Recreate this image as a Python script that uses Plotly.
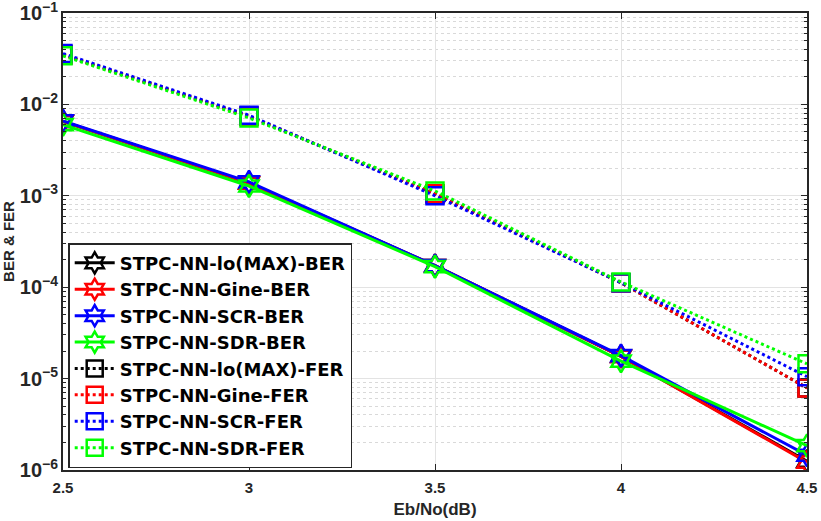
import plotly.graph_objects as go

# Eb/No points (dB)
ebno = [2.5, 3, 3.5, 4, 4.5]

# BER curves
ber_lomax = [6.5e-3, 1.38e-3, 1.72e-4, 1.75e-5, 1.25e-6]
ber_gine = [6.5e-3, 1.38e-3, 1.72e-4, 1.75e-5, 1.22e-6]
ber_scr = [6.6e-3, 1.42e-3, 1.72e-4, 1.78e-5, 1.45e-6]
ber_sdr = [6.0e-3, 1.28e-3, 1.68e-4, 1.55e-5, 1.85e-6]

# FER curves
fer_lomax = [3.5e-2, 7.4e-3, 1.05e-3, 1.12e-4, 7.9e-6]
fer_gine = [3.5e-2, 7.4e-3, 1.05e-3, 1.12e-4, 7.9e-6]
fer_scr = [3.6e-2, 7.6e-3, 1.0e-3, 1.12e-4, 1.05e-5]
fer_sdr = [3.4e-2, 7.1e-3, 1.13e-3, 1.14e-4, 1.45e-5]

names_ber = ["STPC-NN-lo(MAX)-BER", "STPC-NN-Gine-BER", "STPC-NN-SCR-BER", "STPC-NN-SDR-BER"]
names_fer = ["STPC-NN-lo(MAX)-FER", "STPC-NN-Gine-FER", "STPC-NN-SCR-FER", "STPC-NN-SDR-FER"]
colors = ["#000000", "#ff0000", "#0000ff", "#00ff00"]

FONT = "Liberation Sans"
LEGEND_FONT = "DejaVu Sans"
TXT = "#262626"

fig = go.Figure()

for name, ys, col in zip(names_ber, [ber_lomax, ber_gine, ber_scr, ber_sdr], colors):
    fig.add_trace(go.Scatter(
        x=ebno, y=ys, name=name, mode="lines+markers",
        line=dict(color=col, width=3),
        marker=dict(symbol="hexagram-open", size=17, color=col, line=dict(width=2.5, color=col)),
    ))

for name, ys, col in zip(names_fer, [fer_lomax, fer_gine, fer_scr, fer_sdr], colors):
    fig.add_trace(go.Scatter(
        x=ebno, y=ys, name=name, mode="lines+markers",
        line=dict(color=col, width=3, dash="dot"),
        marker=dict(symbol="square-open", size=17, color=col, line=dict(width=2.5, color=col)),
    ))

fig.update_xaxes(
    range=[2.5, 4.5],
    tickvals=ebno,
    ticktext=["2.5", "3", "3.5", "4", "4.5"],
    automargin=False,
    ticklabeloverflow="allow",
    ticklabelstandoff=3,
    showgrid=True, gridcolor="#e3e3e3", gridwidth=1,
    showline=True, linecolor=TXT, linewidth=1.5, mirror="ticks",
    ticks="inside", ticklen=6, tickcolor=TXT,
    tickfont=dict(family=FONT, size=15, color=TXT, weight="bold"),
    title=dict(text="Eb/No(dB)", font=dict(family=FONT, size=17, color=TXT, weight="bold"), standoff=8),
    zeroline=False,
)
fig.update_yaxes(
    type="log",
    range=[-6, -1],
    dtick=1,
    exponentformat="power",
    automargin=False,
    ticklabeloverflow="allow",
    showgrid=True, gridcolor="#e3e3e3", gridwidth=1,
    showline=True, linecolor=TXT, linewidth=1.5, mirror="ticks",
    ticks="inside", ticklen=6, tickcolor=TXT,
    tickfont=dict(family=FONT, size=16, color=TXT, weight="bold"),
    minor=dict(dtick="D1", ticks="inside", ticklen=3, tickcolor=TXT,
               showgrid=True, gridcolor="#d9d9d9", griddash="dot", gridwidth=1),
    title=dict(text="BER & FER", font=dict(family=FONT, size=15, color=TXT, weight="bold"), standoff=10),
    zeroline=False,
)

fig.update_layout(
    width=821, height=521,
    margin=dict(l=63, r=14, t=13, b=51),
    plot_bgcolor="white", paper_bgcolor="white",
    font=dict(family=FONT, color=TXT),
    legend=dict(
        x=0.007, y=0.004, xanchor="left", yanchor="bottom",
        bgcolor="white", bordercolor=TXT, borderwidth=1.5,
        font=dict(family=LEGEND_FONT, size=18, color="black", weight="bold"),
        tracegroupgap=0, itemwidth=40,
    ),
)

# drop the page's default body margin so the figure sits at the window's corner
fig.write_html(
    "out.html",
    config={"displayModeBar": False},
    post_script="document.body.style.margin='0';",
)
